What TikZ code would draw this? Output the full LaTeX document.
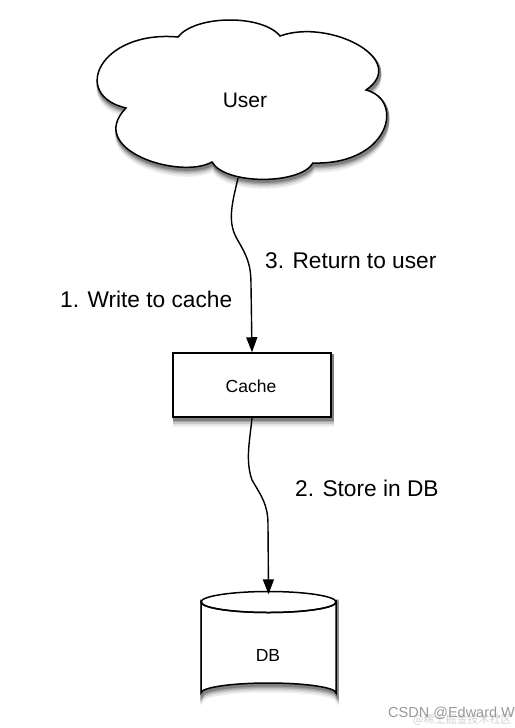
\documentclass[tikz,border=0pt]{standalone}
\usepackage{fontspec}
\setmainfont{Liberation Sans}
\newfontfamily\cjk{Noto Sans CJK SC}
\usetikzlibrary{arrows.meta}
\tikzset{
  outline/.style={draw=black, line width=1.5pt, fill=white},
  conn/.style={draw=black, line width=1.4pt, -{Triangle[width=11pt,length=15pt]}},
  lbl/.style={font=\fontsize{22.7}{26}\selectfont, anchor=base west, inner sep=0pt},
  boxtext/.style={font=\fontsize{17.5}{20}\selectfont, anchor=base, inner sep=0pt},
}
\begin{document}
\begin{tikzpicture}[x=1pt,y=-1pt]
\fill[white] (0,0) rectangle (514,728);
\path[use as bounding box] (0,0) rectangle (514,728);

% soft shadows (stacked layers)
\foreach \d/\c in {8/6, 6.5/12, 5/22, 3.5/35, 2/50} {
  \fill[black!\c, draw=black!\c, line width=3pt, xshift=1pt, yshift=-\d pt]
    (178,37) .. controls (195,15) and (262,14) .. (280,36)
    .. controls (330,18) and (410,60) .. (366,90)
    .. controls (405,100) and (390,165) .. (313,163)
    .. controls (300,185) and (225,185) .. (212,162)
    .. controls (180,180) and (85,150) .. (126,108)
    .. controls (70,95) and (100,30) .. (178,37) -- cycle;
  \fill[black!\c, draw=black!\c, line width=3pt, xshift=1pt, yshift=-\d pt]
    (173,353) rectangle (331,417);
  \fill[black!\c, draw=black!\c, line width=3pt, xshift=1pt, yshift=-\d pt]
    (201,602) -- (201,693) arc[start angle=180, end angle=360, x radius=67.5, y radius=10]
    -- (336,602) arc[start angle=0, end angle=180, x radius=67.5, y radius=10.5] -- cycle;
}

% cloud
\path[outline]
    (178,37) .. controls (195,15) and (262,14) .. (280,36)
    .. controls (330,18) and (410,60) .. (366,90)
    .. controls (405,100) and (390,165) .. (313,163)
    .. controls (300,185) and (225,185) .. (212,162)
    .. controls (180,180) and (85,150) .. (126,108)
    .. controls (70,95) and (100,30) .. (178,37) -- cycle;
\node[font=\fontsize{21}{24}\selectfont, anchor=base, inner sep=0pt] (user) at (245,107) {User};
\coordinate (ubottom) at (238,178);

% cache
\node[outline, minimum width=158pt, minimum height=64pt, inner sep=0pt] (cache) at (252,385) {};
\node[boxtext] (cachetext) at (251,392) {Cache};

% DB cylinder
\node[minimum width=135pt, minimum height=112pt, inner sep=0pt] (db) at (268.5,647.5) {};
\path[outline] (201,602) -- (201,693) arc[start angle=180, end angle=360, x radius=67.5, y radius=10]
    -- (336,602) arc[start angle=0, end angle=180, x radius=67.5, y radius=10.5] -- cycle;
\draw[line width=1.5pt] (268.5,602) ellipse[x radius=67.5, y radius=10.5];
\node[boxtext] (dbtext) at (268,661) {DB};

% connectors
\draw[conn] (ubottom) .. controls (233,200) and (227,220) .. (236,237)
  .. controls (246,255) and (251,262) .. (251,285) -- (cache.north);
\draw[conn] (cache.south) .. controls (250,440) and (245,460) .. (252,480)
  .. controls (262,497) and (268,505) .. (268,525) -- ([yshift=-3pt]db.north);

% labels
\node[lbl] (l3) at (265,268) {3. Return to user};
\node[lbl] (l1) at (60,307) {1. Write to cache};
\node[lbl] (l2) at (295,496) {2. Store in DB};

% watermark
\node[font=\fontsize{11}{12}\cjk, text=black!18, anchor=base west, inner sep=0pt] (wm2) at (413,723) {@稀土掘金技术社区};
\node[font=\fontsize{14.5}{16}\selectfont, text=black!40, anchor=base west, inner sep=0pt] (wm) at (388,717) {CSDN @Edward.W};
\end{tikzpicture}
\end{document}
